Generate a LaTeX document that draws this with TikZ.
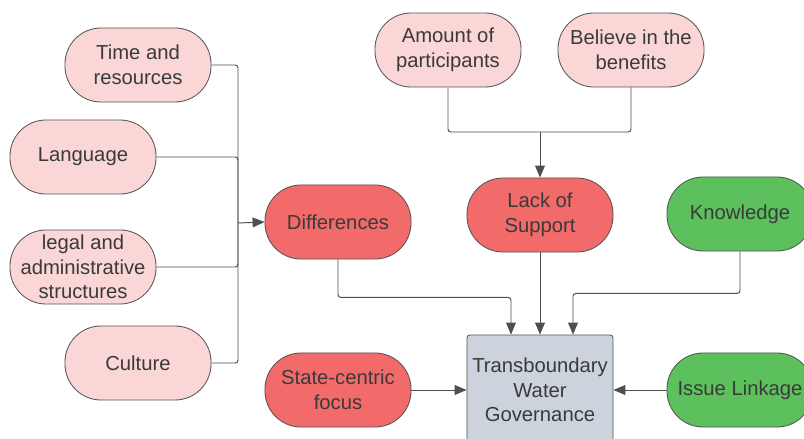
\documentclass[tikz,border=0pt]{standalone}
\usepackage{fontspec}
\setmainfont{Liberation Sans}
\usetikzlibrary{arrows.meta,calc}
\definecolor{rosa}{HTML}{FAD6D6}
\definecolor{rojo}{HTML}{F26A6A}
\definecolor{verde}{HTML}{5CC15C}
\definecolor{gris}{HTML}{CDD3DC}
\definecolor{borde}{HTML}{555555}
\definecolor{linea}{HTML}{4F4F4F}
\definecolor{txt}{HTML}{3A3A3A}
\begin{document}
\begin{tikzpicture}[x=0.025cm, y=-0.025cm,
  every node/.style={font=\fontsize{14.4}{17.5}\selectfont, text=txt, align=center},
  pill/.style={draw=borde, line width=0.6pt, rounded corners=0.9cm,
    minimum width=3.65cm, minimum height=1.85cm, inner sep=1pt},
  con/.style={draw=linea, line width=0.7pt, rounded corners=2pt},
  arr/.style={con, -{Triangle[length=8.5pt,width=7pt]}}]
  \clip (0,0) rectangle (804,439);
  \fill[white] (0,0) rectangle (804,439);
  % causas de las diferencias
  \node[pill, fill=rosa] (time) at (138,65) {Time and\\resources};
  \node[pill, fill=rosa] (lang) at (83,157) {Language};
  \node[pill, fill=rosa] (legal) at (83,267) {legal and\\administrative\\structures};
  \node[pill, fill=rosa] (cult) at (138,363) {Culture};
  % apoyo
  \node[pill, fill=rosa] (amount) at (448,50) {Amount of\\participants};
  \node[pill, fill=rosa] (believe) at (631,50) {Believe in the\\benefits};
  % barreras y factores
  \node[pill, fill=rojo] (diff) at (338,222) {Differences};
  \node[pill, fill=rojo] (lack) at (540,215) {Lack of\\Support};
  \node[pill, fill=verde] (know) at (740,214) {Knowledge};
  \node[pill, fill=rojo] (state) at (338,390) {State-centric\\focus};
  \node[pill, fill=verde] (issue) at (740,390) {Issue Linkage};
  % centro
  \node[draw=borde, line width=0.6pt, fill=gris, rounded corners=2pt,
    minimum width=3.65cm, minimum height=2.75cm, text depth=0pt]
    (gov) at (540,390) {Transboundary\\Water\\Governance};
  % conectores
  \coordinate (bus) at (238,223);
  \coordinate (top) at (540,132);
  \draw[con] (time.east) -| (bus);
  \draw[con] (lang.east) -| (bus);
  \draw[con] (legal.east) -| (bus);
  \draw[con] (cult.east) -| (bus);
  \draw[arr] (bus) -- (diff.west);
  \draw[con] (amount.south) |- (top);
  \draw[con] (believe.south) |- (top);
  \draw[arr] (top) -- (lack.north);
  \draw[arr] (lack.south) -- (gov.north);
  \draw[arr] (diff.south) -- ++(0,38) -| ($(gov.north)+(-29,0)$);
  \draw[arr] (know.south) -- ++(0,42) -| ($(gov.north)+(33,0)$);
  \draw[arr] (state.east) -- (gov.west);
  \draw[arr] (issue.west) -- (gov.east);
\end{tikzpicture}
\end{document}
